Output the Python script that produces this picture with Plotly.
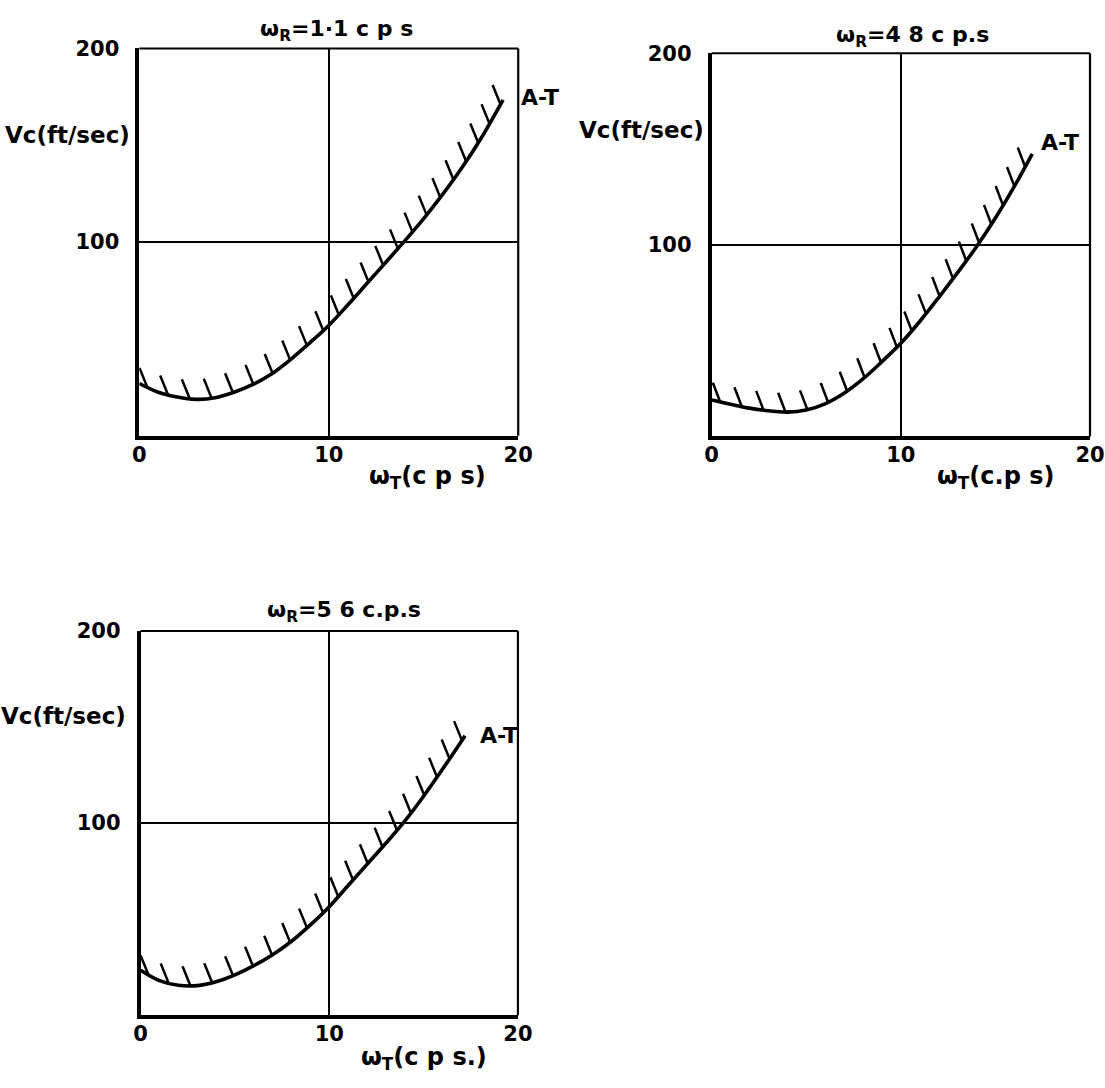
import numpy as np
import plotly.graph_objects as go

W, H = 1105, 1088
FONT = "DejaVu Sans"

# A-T boundary curves: critical speed Vc (ft/sec) against omega_T (c.p.s)
wt_1 = [0, 1, 2, 3, 4, 5, 6, 7, 8, 9, 10, 11, 12, 13, 14, 15, 16, 17, 18, 19.2]
vc_1 = [27, 22.5, 20, 18.8, 19.6, 22.5, 26.5, 32, 39.5, 48, 57, 67.5, 78.5, 89.5,
        100.5, 112, 124.5, 138, 153, 173.5]

wt_2 = [0, 1, 2, 3, 4, 5, 6, 7, 8, 9, 10, 11, 12, 13, 14, 15, 16, 16.95]
vc_2 = [19, 16.8, 14.8, 13.4, 12.7, 13.8, 17, 22.5, 30, 39, 48.6, 60, 72.5, 85.5,
        99, 114, 130.5, 147.5]

wt_3 = [0, 1, 2, 3, 4, 5, 6, 7, 8, 9, 10, 11, 12, 13, 14, 15, 16, 17.2]
vc_3 = [23.4, 18, 15.6, 15.4, 17.4, 21, 25.8, 31.5, 38.5, 47, 56.5, 67.5, 78.5, 89.5,
        101, 114, 128, 145.5]

titles = ["ω<sub>R</sub>=1·1 c p s", "ω<sub>R</sub>=4 8 c p.s", "ω<sub>R</sub>=5 6 c.p.s"]
x_titles = ["ω<sub>T</sub>(c p s)", "ω<sub>T</sub>(c.p s)", "ω<sub>T</sub>(c p s.)"]
y_title = "Vc(ft/sec)"
curve_label = "A-T"

x_ticks = [0, 10, 20]
x_tick_text = ["0", "10", "20"]
y_ticks = [100, 200]
y_tick_text = ["100", "200"]
X_MAX, Y_MAX = 20, 200

# panel boxes in pixels: left, right, top, bottom
boxes = [(135.0, 521.6, 36.9, 428.5),
         (718.9, 1105.0, 41.7, 429.2),
         (136.3, 521.3, 625.9, 1014.4)]
curves = [(wt_1, vc_1), (wt_2, vc_2), (wt_3, vc_3)]

# per-panel placement of the text around each box
ylab_pos = [(0.776, -7), (0.80, -6), (0.778, -13)]
xlab_pos = [(0.76, -42), (0.75, -41), (0.75, -43)]
title_pos = [(0.52, 18), (0.53, 17), (0.54, 19)]
label_shift = [(16, 2), (7, 11), (13, 0)]
hatch_vec = [(-8, 19.5), (-7.5, 19.5), (-8, 19.5)]
hatch_step = [22.5, 22.5, 22.5]
hatch_first = [9, 9, 9]


def hatch_trace(wt, vc, sx, sy, step, first, dpx, dpy, xa, ya):
    """Short oblique ticks on the unstable side of a boundary curve."""
    wt = np.asarray(wt, float)
    vc = np.asarray(vc, float)
    px, py = wt * sx, vc * sy
    s = np.concatenate([[0], np.cumsum(np.hypot(np.diff(px), np.diff(py)))])
    along = np.arange(first, s[-1] - 3, step)
    hx = np.interp(along, s, wt)
    hy = np.interp(along, s, vc)
    xs, ys = [], []
    for a, b in zip(hx, hy):
        xs += [a, a + dpx / sx, None]
        ys += [b, b + dpy / sy, None]
    return go.Scatter(x=xs, y=ys, mode="lines", xaxis=xa, yaxis=ya,
                      line=dict(color="black", width=2.5),
                      hoverinfo="skip", showlegend=False)


fig = go.Figure()
layout = dict(width=W, height=H, margin=dict(l=0, r=0, t=0, b=0),
              paper_bgcolor="white", plot_bgcolor="white", showlegend=False,
              font=dict(family=FONT, color="black", size=20))
annotations, shapes = [], []

for i, ((x0, x1, y0, y1), (wt, vc)) in enumerate(zip(boxes, curves)):
    n = "" if i == 0 else str(i + 1)
    xa, ya = "x" + n, "y" + n
    sx = (x1 - x0) / X_MAX
    sy = (y1 - y0) / Y_MAX

    layout["xaxis" + n] = dict(
        domain=[x0 / W, min(x1 / W, 1.0)], range=[0, X_MAX], anchor=ya,
        tickvals=x_ticks, ticktext=x_tick_text, ticks="",
        ticklabelstandoff=-3, tickfont=dict(family=FONT, size=21, weight="bold"),
        showgrid=True, gridcolor="black", gridwidth=1.7,
        showline=True, linecolor="black", linewidth=3.6,
        zeroline=False, fixedrange=True)
    layout["yaxis" + n] = dict(
        domain=[1 - y1 / H, 1 - y0 / H], range=[0, Y_MAX], anchor=xa,
        tickvals=y_ticks, ticktext=y_tick_text, ticks="",
        ticklabelstandoff=12, tickfont=dict(family=FONT, size=21, weight="bold"),
        showgrid=True, gridcolor="black", gridwidth=1.7,
        showline=True, linecolor="black", linewidth=3.6,
        zeroline=False, fixedrange=True)

    # top and right edges of the frame are drawn lighter than the axes
    shapes.append(dict(type="line", xref=xa + " domain", yref=ya + " domain",
                       x0=0, x1=1, y0=1, y1=1, line=dict(color="black", width=2.2)))
    shapes.append(dict(type="line", xref=xa + " domain", yref=ya + " domain",
                       x0=1, x1=1, y0=0, y1=1, line=dict(color="black", width=2.2)))

    fig.add_trace(go.Scatter(x=wt, y=vc, mode="lines", xaxis=xa, yaxis=ya,
                             line=dict(color="black", width=3.6, shape="spline", smoothing=1.0),
                             hoverinfo="skip", showlegend=False))
    dpx, dpy = hatch_vec[i]
    fig.add_trace(hatch_trace(wt, vc, sx, sy, hatch_step[i], hatch_first[i],
                              dpx, dpy, xa, ya))

    tx, ty = title_pos[i]
    annotations.append(dict(text=titles[i], xref=xa + " domain", yref=ya + " domain",
                            x=tx, y=1, xanchor="center", yanchor="middle", yshift=ty,
                            showarrow=False, font=dict(family=FONT, size=22, weight="bold")))
    lx, ly = xlab_pos[i]
    annotations.append(dict(text=x_titles[i], xref=xa + " domain", yref=ya + " domain",
                            x=lx, y=0, xanchor="center", yanchor="middle", yshift=ly,
                            showarrow=False, font=dict(family=FONT, size=24, weight="bold")))
    yy, yx = ylab_pos[i]
    annotations.append(dict(text=y_title, xref=xa + " domain", yref=ya + " domain",
                            x=0, y=yy, xanchor="right", yanchor="middle", xshift=yx,
                            showarrow=False, font=dict(family=FONT, size=23, weight="bold")))
    cx, cy = label_shift[i]
    annotations.append(dict(text=curve_label, xref=xa, yref=ya,
                            x=wt[-1], y=vc[-1], xanchor="left", yanchor="middle",
                            xshift=cx, yshift=cy, showarrow=False,
                            font=dict(family=FONT, size=22, weight="bold")))

layout["annotations"] = annotations
layout["shapes"] = shapes
fig.update_layout(**layout)
fig.write_html("out.html")
